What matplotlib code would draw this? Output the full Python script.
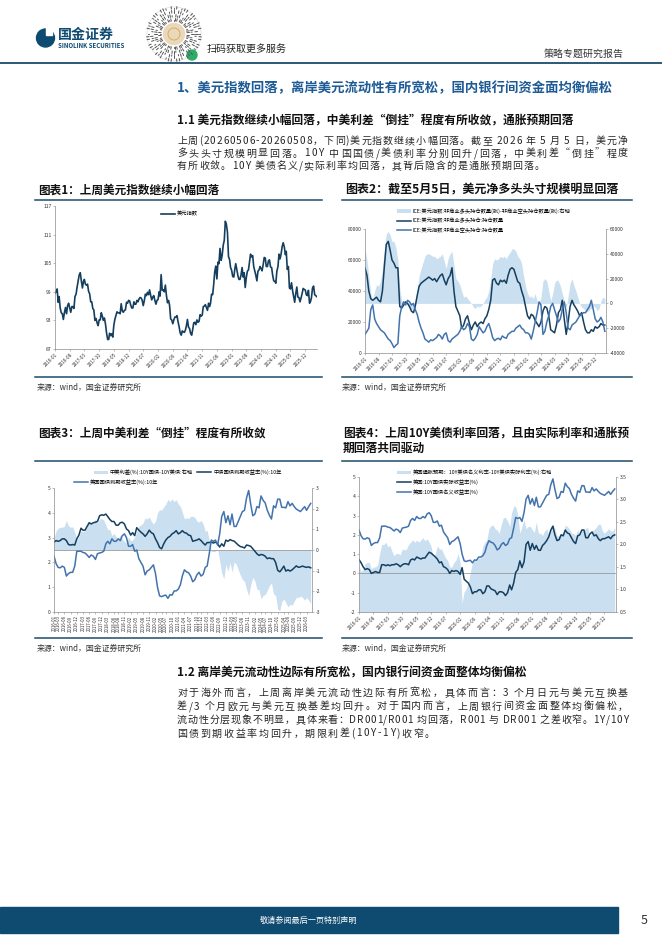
import numpy as np
import pandas as pd
import matplotlib
matplotlib.use("Agg")
import matplotlib.pyplot as plt
from matplotlib.patches import Circle, Rectangle
from matplotlib.ticker import FormatStrFormatter

plt.rcParams['font.family'] = ['Noto Sans CJK SC', 'DejaVu Sans']
plt.rcParams['axes.unicode_minus'] = False

W, H = 662, 936
DARK = '#153f5f'
MID = '#4373ad'
AREA = '#cadff0'
FRAME = '#1d4b69'
AXC = '#8c8c8c'
TEAL = '#0f4b70'
BODY = '#262626'

# ---------------- data ----------------
months = pd.date_range('2016-01-01', '2026-05-01', freq='MS')
half_months = pd.DatetimeIndex(sorted(list(months) + list(months + pd.Timedelta(days=15))))

# 美元指数 (两次/月)
dxy = [
    98.7, 99.0, 99.6, 96.8, 98.0, 95.6, 94.6, 94.4, 93.2, 94.6, 95.7, 94.4,
    96.1, 96.6, 95.6, 94.7, 95.9, 95.9, 95.5, 98.0, 98.5, 100.0, 101.3, 102.5,
    103.0, 101.3, 99.8, 101.2, 101.6, 100.6, 100.4, 100.6, 99.1, 98.6, 96.9, 96.9,
    95.5, 95.2, 93.0, 93.4, 92.5, 91.9, 93.1, 93.1, 94.6, 93.9, 93.0, 93.5,
    92.2, 90.4, 89.0, 89.0, 90.3, 89.8, 90.2, 89.5, 91.9, 93.2, 94.0, 94.8,
    94.6, 94.6, 94.4, 96.5, 95.0, 94.7, 95.1, 95.2, 96.8, 96.6, 97.2, 97.1,
    96.2, 95.6, 95.6, 96.9, 96.4, 96.4, 97.2, 96.9, 97.5, 97.8, 97.7, 97.2,
    96.1, 97.1, 98.5, 98.2, 98.9, 98.4, 99.4, 98.3, 97.3, 97.9, 98.2, 97.2,
    96.4, 97.2, 97.4, 99.0, 98.1, 102.6, 99.3, 99.4, 99.0, 100.4, 98.2, 96.7,
    97.2, 96.2, 93.3, 93.1, 92.3, 93.1, 93.7, 93.7, 94.0, 92.7, 91.7, 90.4,
    89.9, 90.8, 90.6, 90.5, 90.9, 91.8, 93.2, 91.6, 91.3, 90.3, 89.9, 91.1,
    92.5, 92.6, 92.1, 93.1, 92.6, 92.8, 94.2, 93.9, 94.1, 95.9, 96.0, 96.3,
    95.7, 95.1, 96.6, 95.9, 96.6, 98.5, 98.4, 100.6, 103.2, 104.4, 101.7, 105.2,
    104.9, 108.1, 105.6, 106.6, 108.8, 109.8, 113.8, 113.2, 111.5, 106.4, 105.8, 104.1,
    103.5, 102.2, 102.1, 103.8, 104.9, 103.7, 102.4, 101.6, 101.6, 102.5, 104.1, 102.1,
    103.0, 99.9, 102.0, 103.3, 103.6, 105.3, 106.9, 106.3, 106.6, 104.3, 103.4, 102.5,
    101.3, 103.3, 103.6, 104.3, 103.9, 103.4, 104.7, 106.2, 106.1, 104.3, 104.3, 105.5,
    105.7, 104.2, 104.1, 102.5, 101.3, 101.2, 100.8, 103.3, 104.3, 106.9, 105.9, 106.9,
    108.5, 109.3, 108.4, 106.8, 107.5, 103.7, 104.3, 99.8, 99.6, 100.9, 99.2, 98.0,
    96.8, 98.6, 100.0, 97.9, 97.8, 96.9, 97.7, 98.6, 99.7, 99.5, 99.4, 98.4,
    98.2, 99.3, 96.6, 97.0, 97.8, 99.8, 100.2, 98.4, 98.2, 98.0,
]

# ICE美元指数非商业持仓 (张, 月度)
nc_long = [
    55000, 50000, 40000, 35000, 34000, 35000, 36000, 34000, 33000, 40000, 56000, 70000,
    72000, 66000, 60000, 58000, 55000, 55000, 30000, 29000, 31000, 33000, 32000, 30000,
    27000, 26000, 30000, 37000, 43000, 45000, 46000, 47000, 48000, 49000, 48000, 47000,
    48000, 46000, 48000, 50000, 51000, 47000, 44000, 48000, 50000, 55000, 40000, 30000,
    27000, 24000, 16000, 18000, 22000, 24000, 19000, 15000, 18000, 20000, 17000, 19000,
    20000, 19000, 22000, 24000, 28000, 34000, 47000, 48000, 45000, 44000, 47000, 46000,
    47000, 45000, 50000, 54000, 55000, 54000, 50000, 46000, 45000, 40000, 36000, 30000,
    24000, 22000, 25000, 24000, 21000, 19000, 17000, 20000, 27000, 30000, 29000, 24000,
    15000, 14000, 13000, 18000, 26000, 28000, 34000, 22000, 12000, 20000, 30000, 34000,
    31000, 29000, 27000, 24000, 26000, 20000, 15000, 13000, 13000, 15000, 14000, 17000,
    16000, 17000, 19000, 18000, 18000,
]
nc_short = [
    12000, 14000, 16000, 28000, 31000, 22000, 19000, 17000, 15000, 14000, 13000, 11000,
    9000, 8000, 6000, 3500, 5000, 6000, 24000, 30000, 33000, 31000, 34000, 33000,
    31000, 32000, 28000, 25000, 20000, 16000, 13000, 9000, 8000, 7000, 8500, 8000,
    9000, 10000, 12000, 11000, 9000, 12000, 13000, 8000, 7000, 9000, 10000, 11000,
    12000, 14000, 17000, 15000, 16000, 19000, 17000, 9000, 8000, 9500, 12000, 17000,
    15000, 13000, 14000, 17000, 19000, 15000, 10000, 8000, 9000, 9500, 8500, 11000,
    10000, 9500, 12000, 13000, 14000, 14000, 16000, 17000, 18000, 16000, 15000, 13000,
    13000, 12000, 9000, 14000, 20000, 26000, 33000, 31000, 12000, 14000, 20000, 24000,
    30000, 32000, 28000, 24000, 20000, 22000, 28000, 33000, 26000, 16000, 15000, 18000,
    19000, 20000, 22000, 24000, 25000, 26000, 26000, 28000, 30000, 34000, 28000, 22000,
    20000, 21000, 23000, 20000, 14000,
]
nc_net = [
    44000, 35000, 22000, 8000, 3000, 10000, 15000, 14000, 18000, 28000, 45000, 56000,
    58000, 55000, 50000, 50000, 45000, 35000, 12000, 2000, 0, 2000, -2000, -4000,
    -5000, -3000, 2000, 10000, 22000, 28000, 33000, 38000, 40000, 40000, 39000, 38000,
    38000, 36000, 37000, 38000, 40000, 34000, 28000, 36000, 40000, 42000, 30000, 20000,
    18000, 15000, 10000, 5000, 6000, 4000, 2000, 0, -3000, -4000, -2000, -3000,
    -2000, 0, 3000, 5000, 10000, 20000, 32000, 36000, 35000, 36000, 38000, 37000,
    38000, 36000, 39000, 41000, 44000, 44000, 42000, 38000, 36000, 32000, 22000, 14000,
    8000, 5000, 6000, 4000, 8000, 2000, 0, 5000, 18000, 20000, 18000, 10000,
    2000, 8000, 16000, 19000, 18000, 14000, 8000, 2000, -4000, 6000, 16000, 20000,
    14000, 10000, 5000, 0, -3000, -4000, -6000, -7000, -5000, -4000, -2000, -3000,
    -6000, -4000, 2000, 5000, 4000,
]

# 中债10年 / 美债10年名义 / 美债10年实际 (%, 月度)
cn10y = [
    2.82, 2.88, 2.85, 2.88, 2.95, 2.95, 2.88, 2.72, 2.70, 2.72, 2.70, 2.95,
    3.10, 3.38, 3.30, 3.30, 3.45, 3.60, 3.55, 3.60, 3.62, 3.65, 3.88, 3.92,
    3.90, 3.95, 3.85, 3.73, 3.65, 3.65, 3.50, 3.50, 3.60, 3.62, 3.55, 3.35,
    3.28, 3.10, 3.20, 3.08, 3.40, 3.30, 3.22, 3.15, 3.05, 3.15, 3.30, 3.20,
    3.15, 2.95, 2.80, 2.60, 2.55, 2.75, 2.90, 3.00, 3.05, 3.15, 3.20, 3.28,
    3.15, 3.20, 3.28, 3.20, 3.18, 3.10, 3.08, 2.85, 2.88, 2.90, 2.95, 2.88,
    2.78, 2.70, 2.80, 2.80, 2.82, 2.78, 2.82, 2.75, 2.62, 2.75, 2.65, 2.90,
    2.85, 2.92, 2.88, 2.86, 2.78, 2.70, 2.64, 2.62, 2.58, 2.70, 2.68, 2.65,
    2.55, 2.45, 2.35, 2.28, 2.32, 2.30, 2.25, 2.15, 2.18, 2.15, 2.15, 2.00,
    1.68, 1.62, 1.72, 1.85, 1.65, 1.70, 1.65, 1.70, 1.78, 1.86, 1.80, 1.82,
    1.85, 1.82, 1.80, 1.82, 1.78,
]
us10y = [
    2.25, 1.95, 1.80, 1.78, 1.85, 1.80, 1.45, 1.55, 1.60, 1.60, 1.85, 2.45,
    2.45, 2.45, 2.40, 2.38, 2.30, 2.20, 2.30, 2.25, 2.12, 2.35, 2.38, 2.40,
    2.45, 2.75, 2.85, 2.75, 2.95, 2.85, 2.85, 2.95, 2.88, 3.08, 3.15, 3.00,
    2.65, 2.65, 2.72, 2.45, 2.50, 2.15, 2.00, 1.85, 1.50, 1.65, 1.70, 1.80,
    1.90, 1.55, 1.00, 0.65, 0.62, 0.66, 0.68, 0.55, 0.70, 0.68, 0.85, 0.85,
    0.92, 1.10, 1.45, 1.70, 1.62, 1.58, 1.45, 1.22, 1.30, 1.50, 1.60, 1.45,
    1.52, 1.80, 1.85, 2.35, 2.90, 2.85, 2.90, 2.70, 3.15, 3.85, 4.05, 3.60,
    3.88, 3.52, 3.95, 3.45, 3.45, 3.65, 3.85, 4.05, 4.10, 4.60, 4.90, 4.35,
    3.88, 3.95, 4.25, 4.20, 4.68, 4.50, 4.40, 4.10, 3.90, 3.75, 4.28, 4.20,
    4.55, 4.55, 4.22, 4.22, 4.20, 4.45, 4.28, 4.38, 4.25, 4.15, 4.10, 4.05,
    4.15, 4.25, 4.10, 4.25, 4.38,
]
us10y_real = [
    0.72, 0.55, 0.35, 0.20, 0.25, 0.20, 0.00, 0.05, 0.10, 0.05, 0.05, 0.45,
    0.45, 0.40, 0.45, 0.40, 0.45, 0.45, 0.50, 0.45, 0.35, 0.45, 0.50, 0.50,
    0.45, 0.70, 0.75, 0.70, 0.85, 0.80, 0.75, 0.80, 0.80, 0.95, 1.10, 1.05,
    0.95, 0.85, 0.75, 0.55, 0.60, 0.35, 0.30, 0.20, 0.00, 0.15, 0.10, 0.15,
    0.10, -0.05, 0.30, -0.30, -0.40, -0.50, -0.70, -1.05, -0.95, -0.95, -0.85, -0.85,
    -1.05, -0.95, -0.65, -0.65, -0.80, -0.85, -0.90, -1.10, -0.95, -0.95, -1.00, -1.15,
    -1.00, -0.60, -0.85, -0.50, 0.05, 0.20, 0.65, 0.30, 0.60, 1.50, 1.65, 1.20,
    1.55, 1.25, 1.45, 1.20, 1.20, 1.45, 1.55, 1.70, 1.90, 2.25, 2.45, 2.00,
    1.70, 1.75, 2.00, 1.95, 2.25, 2.10, 2.05, 1.85, 1.65, 1.55, 1.95, 2.00,
    2.25, 2.25, 1.85, 1.85, 2.05, 2.15, 1.95, 2.00, 1.80, 1.70, 1.80, 1.80,
    1.85, 1.90, 1.80, 1.95, 2.00,
]

ticks_7m = ['2016-01', '2016-08', '2017-03', '2017-10', '2018-05', '2018-12', '2019-07',
            '2020-02', '2020-09', '2021-04', '2021-11', '2022-06', '2023-01', '2023-08',
            '2024-03', '2024-10', '2025-05', '2025-12']
ticks_3m = ['2016-01', '2016-03', '2016-06', '2016-09', '2016-12', '2017-03', '2017-06',
            '2017-09', '2017-12', '2018-03', '2018-06', '2018-08', '2018-11', '2019-02',
            '2019-05', '2019-08', '2019-11', '2020-02', '2020-05', '2020-07', '2020-10',
            '2021-01', '2021-04', '2021-07', '2021-10', '2021-12', '2022-03', '2022-06',
            '2022-09', '2022-12', '2023-03', '2023-05', '2023-08', '2023-11', '2024-02',
            '2024-05', '2024-07', '2024-10', '2025-01', '2025-04', '2025-06', '2025-09',
            '2025-12', '2026-03']

spread = np.array(cn10y) - np.array(us10y)            # 中美利差 = 10Y国债 - 10Y美债
breakeven = np.array(us10y) - np.array(us10y_real)     # 名义 - 实际

# ---------------- page ----------------
fig = plt.figure(figsize=(W / 100, H / 100), dpi=100)
page = fig.add_axes([0, 0, 1, 1])
page.set_xlim(0, W)
page.set_ylim(H, 0)
page.axis('off')
renderer = fig.canvas.get_renderer()


def put(x, y, s, width=None, size=8, **kw):
    kw.setdefault('va', 'center')
    t = page.text(x, y, s, fontsize=size, **kw)
    if width:
        w = t.get_window_extent(renderer).width
        t.set_fontsize(size * width / w)
    return t


_cw = {}


def char_w(ch, size):
    if (ch, size) not in _cw:
        a = page.text(0, 0, '国' + ch + '国', fontsize=size)
        b = page.text(0, 0, '国国', fontsize=size)
        _cw[(ch, size)] = a.get_window_extent(renderer).width - b.get_window_extent(renderer).width
        a.remove()
        b.remove()
    return _cw[(ch, size)]


def body_line(x0, y, s, x1=None, gap=0.0, size=7.2):
    ws = [char_w(c, size) for c in s]
    if x1 is not None:
        gap = (x1 - x0 - sum(ws)) / (len(s) - 1)
    x = x0
    for c, w in zip(s, ws):
        if c != ' ':
            page.text(x, y, c, fontsize=size, color=BODY, va='center', ha='left')
        x += w + gap
    return gap


# header
page.add_patch(Circle((45.5, 38), 9, color=TEAL))
page.add_patch(Rectangle((46, 27.5), 6, 7, color='white'))
put(58, 35, '国金证券', width=56, size=10, color=TEAL, fontweight='bold')
put(58, 45.5, 'SINOLINK SECURITIES', width=67, size=4, color=TEAL, fontweight='bold')

qx, qy = 174, 34
page.add_patch(Circle((qx, qy), 27, facecolor='white', edgecolor='#dddddd', lw=0.5))
for k in range(60):
    ang = 2 * np.pi * k / 60
    for ring, r in enumerate([13, 17, 21, 25]):
        if (k * 5 + ring * 3) % 4 != 0:
            seg = 2.6 if (k + ring) % 3 else 1.4
            page.plot([qx + r * np.cos(ang), qx + (r + seg) * np.cos(ang)],
                      [qy + r * np.sin(ang), qy + (r + seg) * np.sin(ang)],
                      color='#555555', lw=0.7, solid_capstyle='round')
page.add_patch(Circle((qx, qy), 10.5, color='#ead8b6'))
page.add_patch(Circle((qx, qy), 6, facecolor='none', edgecolor='#c9a970', lw=0.6))
page.add_patch(Circle((192, 55), 5, color='#2aae67'))
put(207, 49, '扫码获取更多服务', width=80, size=7, color='#222222')
put(624, 53.5, '策略专题研究报告', width=80, size=6, color='#333333', ha='right')
page.plot([0, W], [63, 63], color=FRAME, lw=1.3)

# section text
put(177, 88, '1、美元指数回落，离岸美元流动性有所宽松，国内银行间资金面均衡偏松',
    width=435, size=10, color='#1e5b96', fontweight='bold')
put(177, 120, '1.1 美元指数继续小幅回落，中美利差“倒挂”程度有所收敛，通胀预期回落',
    width=393, size=8.5, color='#111111', fontweight='bold')

para1 = ['上周(20260506-20260508，下同)美元指数继续小幅回落。截至 2026 年 5 月 5 日，美元净',
         '多头头寸规模明显回落。10Y 中国国债/美债利率分别回升/回落，中美利差“倒挂”程度',
         '有所收敛。10Y 美债名义/实际利率均回落，其背后隐含的是通胀预期回落。']
g = body_line(177, 141, para1[0], x1=628)
body_line(177, 153.5, para1[1], x1=628)
body_line(177, 166, para1[2], gap=g)

# captions, frames, sources
cap_kw = dict(color='#111111', fontweight='bold')
put(38, 190, '图表1：上周美元指数继续小幅回落', width=180, size=8.5, **cap_kw)
put(345, 190, '图表2：截至5月5日，美元净多头头寸规模明显回落', width=273, size=8.5, **cap_kw)
put(38, 433, '图表3：上周中美利差“倒挂”程度有所收敛', width=227, size=8.5, **cap_kw)
c4 = put(343, 433, '图表4：上周10Y美债利率回落，且由实际利率和通胀预', width=285, size=8.5, **cap_kw)
put(343, 448, '期回落共同驱动', size=c4.get_fontsize(), **cap_kw)

for (x0, x1) in [(35, 322), (342, 632)]:
    for (yt, yb) in [(200, 377), (461, 638)]:
        page.plot([x0, x1], [yt, yt], color=FRAME, lw=1.1)
        page.plot([x0, x1], [yb, yb], color=FRAME, lw=1.1)
for (x, y) in [(37, 387), (342, 387), (37, 648), (342, 648)]:
    put(x, y, '来源：wind，国金证券研究所', width=106, size=6, color='#333333')

put(177, 673, '1.2 离岸美元流动性边际有所宽松，国内银行间资金面整体均衡偏松',
    width=350, size=8.5, color='#111111', fontweight='bold')
para2 = ['对于海外而言，上周离岸美元流动性边际有所宽松，具体而言：3 个月日元与美元互换基',
         '差/3 个月欧元与美元互换基差均回升。对于国内而言，上周银行间资金面整体均衡偏松，',
         '流动性分层现象不明显，具体来看：DR001/R001 均回落，R001 与 DR001 之差收窄。1Y/10Y',
         '国债到期收益率均回升，期限利差(10Y-1Y)收窄。']
g = body_line(177, 693, para2[0], x1=628)
body_line(177, 706.5, para2[1], x1=628)
body_line(177, 720, para2[2], x1=628)
body_line(177, 733.5, para2[3], gap=g)

# footer
page.add_patch(Rectangle((0, 907), 618, 26, color=TEAL))
put(309, 920, '敬请参阅最后一页特别声明', width=98, size=6, color='white', ha='center')
put(644, 920, '5', size=9, color='#333333', ha='center')


# ---------------- charts ----------------
def chart_axes(l, t, r, b):
    ax = fig.add_axes([l / W, 1 - b / H, (r - l) / W, (b - t) / H])
    ax.patch.set_visible(False)
    return ax


def style(ax, twin=None):
    ax.spines['top'].set_visible(False)
    ax.spines['right'].set_visible(False)
    for s in ['left', 'bottom']:
        ax.spines[s].set_color(AXC)
        ax.spines[s].set_linewidth(0.5)
    ax.tick_params(labelsize=3.6, length=1.5, width=0.4, pad=1, color=AXC, labelcolor='#333333')
    if twin is not None:
        for s in ['top', 'left', 'bottom']:
            twin.spines[s].set_visible(False)
        twin.spines['right'].set_color(AXC)
        twin.spines['right'].set_linewidth(0.5)
        twin.tick_params(labelsize=3.6, length=1.5, width=0.4, pad=1, color=AXC, labelcolor='#333333')
        ax.set_zorder(twin.get_zorder() + 1)
        ax.patch.set_visible(False)


def date_ticks(ax, labels, rot=45, size=3.3):
    ax.set_xticks(pd.to_datetime(labels))
    if rot == 90:
        ax.set_xticklabels(labels, rotation=90, ha='center', va='top', fontsize=size)
    else:
        ax.set_xticklabels(labels, rotation=rot, ha='right', rotation_mode='anchor', fontsize=size)


xmin, xmax = pd.Timestamp('2016-01-01'), pd.Timestamp('2026-05-20')
leg_kw = dict(frameon=False, fontsize=3.8, handlelength=2.6, handletextpad=0.4,
              labelspacing=0.75, borderpad=0, borderaxespad=0, columnspacing=0.8,
              bbox_transform=page.transData, loc='upper left')

# chart 1
ax1 = chart_axes(55, 206, 317, 349)
style(ax1)
ax1.plot(half_months, dxy, color=DARK, lw=1.2, label='美元指数')
ax1.set_ylim(87, 117)
ax1.set_yticks(range(87, 118, 6))
ax1.set_xlim(xmin, xmax)
date_ticks(ax1, ticks_7m)
ax1.legend(bbox_to_anchor=(161, 211.5), **leg_kw)

# chart 2
ax2 = chart_axes(365, 229, 606, 353)
ax2r = ax2.twinx()
style(ax2, ax2r)
a2 = ax2r.fill_between(months, nc_net, 0, color=AREA, lw=0,
                       label='ICE:美元指数:非商业多头持仓数量(张)-非商业空头持仓数量(张):右轴')
l2a, = ax2.plot(months, nc_long, color=DARK, lw=1.1, label='ICE:美元指数:非商业多头持仓:持仓数量')
l2b, = ax2.plot(months, nc_short, color=MID, lw=1.1, label='ICE:美元指数:非商业空头持仓:持仓数量')
ax2.set_ylim(0, 80000)
ax2.set_yticks(range(0, 80001, 20000))
ax2r.set_ylim(-40000, 60000)
ax2r.set_yticks(range(-40000, 60001, 20000))
ax2.set_xlim(xmin, xmax)
date_ticks(ax2, ticks_7m)
ax2.legend([a2, l2a, l2b], [a2.get_label(), l2a.get_label(), l2b.get_label()],
           bbox_to_anchor=(397, 208), **leg_kw)

# chart 3
ax3 = chart_axes(54, 488, 312, 612)
ax3r = ax3.twinx()
style(ax3, ax3r)
a3 = ax3r.fill_between(months, spread, 0, color=AREA, lw=0, label='中美利差(%):10Y国债-10Y美债:右轴')
ax3r.axhline(0, color=AXC, lw=0.5)
l3a, = ax3.plot(months, cn10y, color=DARK, lw=1.1, label='中债国债到期收益率(%):10年')
l3b, = ax3.plot(months, us10y, color=MID, lw=1.1, label='美国国债到期收益率(%):10年')
ax3.set_ylim(0, 5)
ax3.set_yticks(range(0, 6))
ax3r.set_ylim(-3, 3)
ax3r.set_yticks(range(-3, 4))
ax3.set_xlim(xmin, xmax)
date_ticks(ax3, ticks_3m, rot=90, size=3.1)
leg3 = ax3.legend([a3, l3a], [a3.get_label(), l3a.get_label()], ncol=2,
                  bbox_to_anchor=(94, 469.5), **leg_kw)
ax3.add_artist(leg3)
ax3.legend([l3b], [l3b.get_label()], bbox_to_anchor=(74, 479.5), **leg_kw)

# chart 4
ax4 = chart_axes(359, 477, 616, 612)
ax4r = ax4.twinx()
style(ax4, ax4r)
a4 = ax4r.fill_between(months, breakeven, 0.5, color=AREA, lw=0,
                       label='美国通胀预期：10Y美债名义利率-10Y美债实际利率(%):右轴')
ax4.axhline(0, color=AXC, lw=0.5)
l4a, = ax4.plot(months, us10y_real, color=DARK, lw=1.1, label='美国:10Y国债实际收益率(%)')
l4b, = ax4.plot(months, us10y, color=MID, lw=1.1, label='美国:10Y国债名义收益率(%)')
ax4.set_ylim(-2, 5)
ax4.set_yticks(range(-2, 6))
ax4r.set_ylim(0.5, 3.5)
ax4r.set_yticks(np.arange(0.5, 3.51, 0.5))
ax4r.yaxis.set_major_formatter(FormatStrFormatter('%.1f'))
ax4.set_xlim(xmin, xmax)
date_ticks(ax4, ticks_7m)
ax4.legend([a4, l4a, l4b], [a4.get_label(), l4a.get_label(), l4b.get_label()],
           bbox_to_anchor=(397, 469.5), **leg_kw)

fig.savefig('out.png', dpi=100)
